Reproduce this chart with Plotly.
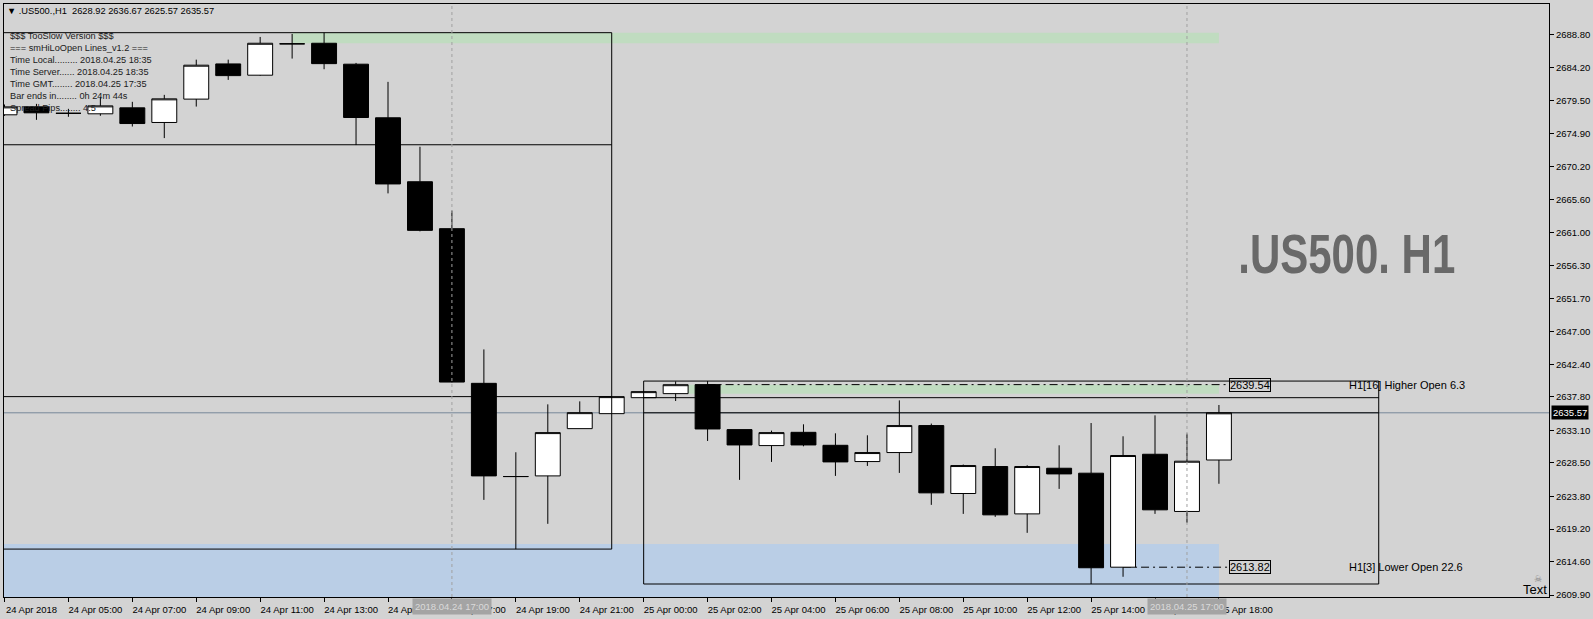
import plotly.graph_objects as go

# ---------------- data ----------------
bar_index = list(range(39))  # 24 Apr 03:00 ... 22:00, 25 Apr 00:00 ... 18:00 (H1 bars)
opens = [2677.55, 2678.67, 2677.76, 2677.69, 2678.53, 2676.47, 2679.76, 2684.72, 2683.13, 2687.55,
         2687.63, 2684.68, 2677.13, 2668.12, 2661.51, 2639.72, 2626.59, 2626.68, 2633.34, 2635.45,
         2637.70, 2638.27, 2639.54, 2633.20, 2630.95, 2632.82, 2630.99, 2628.70, 2629.97, 2633.77,
         2624.20, 2628.00, 2621.33, 2627.76, 2627.06, 2613.82, 2629.73, 2621.67, 2628.92]
highs = [2679.00, 2679.09, 2678.39, 2680.08, 2679.38, 2680.36, 2685.32, 2685.32, 2688.52, 2688.94,
         2689.12, 2684.86, 2682.19, 2673.05, 2664.05, 2644.50, 2630.01, 2636.76, 2637.18, 2637.85,
         2638.55, 2639.99, 2640.04, 2633.20, 2633.06, 2633.95, 2632.68, 2632.40, 2637.32, 2634.05,
         2628.28, 2630.57, 2628.18, 2630.99, 2634.13, 2632.26, 2635.21, 2632.64, 2636.67]
lows = [2677.41, 2676.84, 2677.27, 2677.41, 2675.90, 2674.27, 2678.71, 2682.47, 2683.05, 2685.47,
        2683.97, 2673.29, 2666.48, 2661.13, 2639.85, 2623.30, 2616.37, 2619.93, 2633.34, 2635.45,
        2637.70, 2637.23, 2631.60, 2626.12, 2628.65, 2630.85, 2626.68, 2628.08, 2627.10, 2622.60,
        2621.33, 2620.91, 2618.66, 2624.85, 2611.45, 2612.47, 2621.33, 2620.07, 2625.57]
closes = [2678.67, 2677.83, 2677.76, 2678.81, 2676.32, 2679.80, 2684.54, 2683.07, 2687.63, 2687.55,
          2684.76, 2677.17, 2667.81, 2661.27, 2639.90, 2626.68, 2626.59, 2632.78, 2635.59, 2637.85,
          2638.55, 2639.53, 2633.29, 2631.04, 2632.78, 2631.04, 2628.65, 2629.97, 2633.77, 2624.29,
          2628.14, 2621.19, 2628.00, 2626.96, 2613.74, 2629.55, 2621.90, 2628.75, 2635.57]

x_tick_index = [0, 2, 4, 6, 8, 10, 12, 14, 16, 18, 20, 22, 24, 26, 28, 30, 32, 34, 36, 38]
x_tick_text = ["24 Apr 2018", "24 Apr 05:00", "24 Apr 07:00", "24 Apr 09:00", "24 Apr 11:00",
               "24 Apr 13:00", "24 Apr 15:00", "24 Apr 17:00", "24 Apr 19:00", "24 Apr 21:00",
               "25 Apr 00:00", "25 Apr 02:00", "25 Apr 04:00", "25 Apr 06:00", "25 Apr 08:00",
               "25 Apr 10:00", "25 Apr 12:00", "25 Apr 14:00", "25 Apr 16:00", "25 Apr 18:00"]
y_tick_vals = [2688.80, 2684.20, 2679.50, 2674.90, 2670.20, 2665.60, 2661.00, 2656.30, 2651.70,
               2647.00, 2642.40, 2637.80, 2633.10, 2628.50, 2623.80, 2619.20, 2614.60, 2609.90]

day1_bars = (0, 19)       # 24 Apr bars (visible part)
day2_bars = (20, 38)      # 25 Apr bars
day1_open = 2673.33
higher_open = 2639.54     # H1[16]
higher_open_bar = 22
lower_open = 2613.82      # H1[3]
lower_open_bar = 35
green_zone_top = (9, 38, 2687.63, 2689.12)
green_zone_mid = (21, 38, 2638.27, 2639.53)
blue_zone = (-2, 38, 2600.0, 2617.07)
separators = [14, 37]
separator_labels = ["2018.04.24 17:00", "2018.04.25 17:00"]
last_price = closes[-1]

info_lines = ["$$$ TooSlow Version $$$",
              "=== smHiLoOpen Lines_v1.2 ===",
              "Time Local......... 2018.04.25 18:35",
              "Time Server...... 2018.04.25 18:35",
              "Time GMT........ 2018.04.25 17:35",
              "Bar ends in........ 0h 24m 44s",
              "Spread Pips........ 4.5"]

BG = "#D3D3D3"
FONT = "Liberation Sans, Arial, sans-serif"

fig = go.Figure()
fig.add_trace(go.Candlestick(
    x=bar_index, open=opens, high=highs, low=lows, close=closes,
    increasing=dict(line=dict(color="black", width=1), fillcolor="white"),
    decreasing=dict(line=dict(color="black", width=1), fillcolor="black"),
    whiskerwidth=0, showlegend=False, hoverinfo="skip"))

shapes = []
# zones (below candles)
for z, col in [(green_zone_top, "#C0DCC0"), (green_zone_mid, "#C0DCC0"), (blue_zone, "#BACEE6")]:
    shapes.append(dict(type="rect", xref="x", yref="y", x0=z[0], x1=z[1], y0=z[2], y1=z[3],
                       fillcolor=col, line=dict(width=0), layer="below"))
# current price line
shapes.append(dict(type="line", xref="paper", yref="y", x0=0, x1=1, y0=last_price, y1=last_price,
                   line=dict(color="#778899", width=1), layer="below"))
# open level lines
label_x = 38.33
shapes.append(dict(type="line", xref="x", yref="y", x0=higher_open_bar, x1=label_x,
                   y0=higher_open, y1=higher_open, line=dict(color="black", width=1, dash="8px,4px,2px,4px"),
                   layer="below"))
shapes.append(dict(type="line", xref="x", yref="y", x0=lower_open_bar, x1=label_x,
                   y0=lower_open, y1=lower_open, line=dict(color="black", width=1, dash="8px,4px,2px,4px"),
                   layer="below"))
# day boxes
d1_hi = max(highs[day1_bars[0]:day1_bars[1] + 1]); d1_lo = min(lows[day1_bars[0]:day1_bars[1] + 1])
d2_hi = max(highs[day2_bars[0]:day2_bars[1] + 1]); d2_lo = min(lows[day2_bars[0]:day2_bars[1] + 1])
shapes.append(dict(type="rect", xref="x", yref="y", x0=-2, x1=day1_bars[1], y0=d1_lo, y1=d1_hi,
                   line=dict(color="black", width=1), layer="above"))
shapes.append(dict(type="line", xref="x", yref="y", x0=-2, x1=day1_bars[1], y0=day1_open, y1=day1_open,
                   line=dict(color="black", width=1), layer="above"))
shapes.append(dict(type="line", xref="x", yref="y", x0=-2, x1=day1_bars[1], y0=closes[day1_bars[1]],
                   y1=closes[day1_bars[1]], line=dict(color="black", width=1), layer="above"))
shapes.append(dict(type="rect", xref="x", yref="y", x0=day2_bars[0], x1=43, y0=d2_lo, y1=d2_hi,
                   line=dict(color="black", width=1), layer="above"))
shapes.append(dict(type="line", xref="x", yref="y", x0=day2_bars[0], x1=43, y0=opens[day2_bars[0]],
                   y1=opens[day2_bars[0]], line=dict(color="black", width=1), layer="above"))
shapes.append(dict(type="line", xref="x", yref="y", x0=day2_bars[0], x1=43, y0=last_price,
                   y1=last_price, line=dict(color="black", width=1), layer="above"))
# separators
for s in separators:
    shapes.append(dict(type="line", xref="x", yref="paper", x0=s, x1=s, y0=0, y1=1,
                       line=dict(color="#A0A0A0", width=1, dash="3px,3px"), layer="above"))

ann = []
ann.append(dict(xref="paper", yref="paper", x=0.0005, y=0.9885, xanchor="left", yanchor="middle",
                text="▼ .US500.,H1  " + " ".join(f"{v:.2f}" for v in [opens[-1], highs[-1], lows[-1], closes[-1]]),
                showarrow=False, font=dict(family=FONT, size=9.3, color="black")))
ann.append(dict(xref="paper", yref="paper", x=0.0024, y=0.9575, xanchor="left", yanchor="top", align="left",
                text="<br>".join(info_lines), showarrow=False,
                font=dict(family=FONT, size=9.2, color="#202020")))
ann.append(dict(xref="x", yref="y", x=42, y=2658.0, text=".US500. H1", showarrow=False,
                font=dict(family="Liberation Sans", size=56, color="#696969", weight="bold")))
for lvl, txt in [(higher_open, "H1[16] Higher Open 6.3"), (lower_open, "H1[3] Lower Open 22.6")]:
    ann.append(dict(xref="x", yref="y", x=label_x, y=lvl, xanchor="left", yanchor="middle",
                    text=f"{lvl:.2f}", showarrow=False, bordercolor="black", borderwidth=1, borderpad=0,
                    font=dict(family=FONT, size=11, color="black")))
    ann.append(dict(xref="x", yref="y", x=42, y=lvl, xanchor="left", yanchor="middle",
                    text=txt, showarrow=False, font=dict(family=FONT, size=11, color="black")))
ann.append(dict(xref="paper", yref="y", x=1, y=last_price, xanchor="left", yanchor="middle",
                text=f"{last_price:.2f}", showarrow=False, bgcolor="black", xshift=2, borderpad=1,
                font=dict(family=FONT, size=9.5, color="white")))
for s, t in zip(separators, separator_labels):
    ann.append(dict(xref="x", yref="paper", x=s, y=-0.0165, xanchor="center", yanchor="middle",
                    text=t, showarrow=False, bgcolor="#A4A4A4", borderpad=2,
                    font=dict(family=FONT, size=9.5, color="#DADADA")))
ann.append(dict(xref="paper", yref="paper", x=1, y=0.012, xanchor="right", yanchor="middle",
                text="Text", showarrow=False, font=dict(family=FONT, size=13, color="black")))
ann.append(dict(xref="paper", yref="paper", x=0.9932, y=0.03, xanchor="center", yanchor="middle",
                text="☠", showarrow=False, font=dict(family="DejaVu Sans", size=9, color="#808080")))

fig.update_layout(
    width=1593, height=619,
    margin=dict(l=3, r=43, t=3, b=22),
    paper_bgcolor=BG, plot_bgcolor=BG,
    boxgap=0.22, boxgroupgap=0,
    shapes=shapes, annotations=ann,
    showlegend=False,
    font=dict(family=FONT, size=9.5, color="black"),
    xaxis=dict(range=[-0.0156, 48.328], showgrid=False, zeroline=False,
               showline=True, linecolor="black", linewidth=1, mirror=True,
               ticks="outside", ticklen=4, tickcolor="black",
               tickvals=x_tick_index, ticktext=x_tick_text, ticklabelshift=27,
               tickfont=dict(family=FONT, size=9.5, color="black"),
               rangeslider=dict(visible=False), fixedrange=True),
    yaxis=dict(range=[2609.62, 2693.16], side="right", showgrid=False, zeroline=False,
               showline=True, linecolor="black", linewidth=1, mirror=True,
               ticks="outside", ticklen=4, tickcolor="black",
               tickvals=y_tick_vals, ticktext=[f"{v:.2f}" for v in y_tick_vals],
               tickfont=dict(family=FONT, size=9.5, color="black"), fixedrange=True),
)

post_js = """
document.body.style.margin = '0';
document.querySelectorAll('.annotation-text').forEach(function (t) {
  if (t.textContent === '.US500. H1') {
    t.style.transformBox = 'fill-box';
    t.style.transformOrigin = 'center';
    t.style.transform = 'scaleX(0.75)';
  }
});
"""

fig.write_html("out.html", post_script=post_js, config={"displayModeBar": False})
